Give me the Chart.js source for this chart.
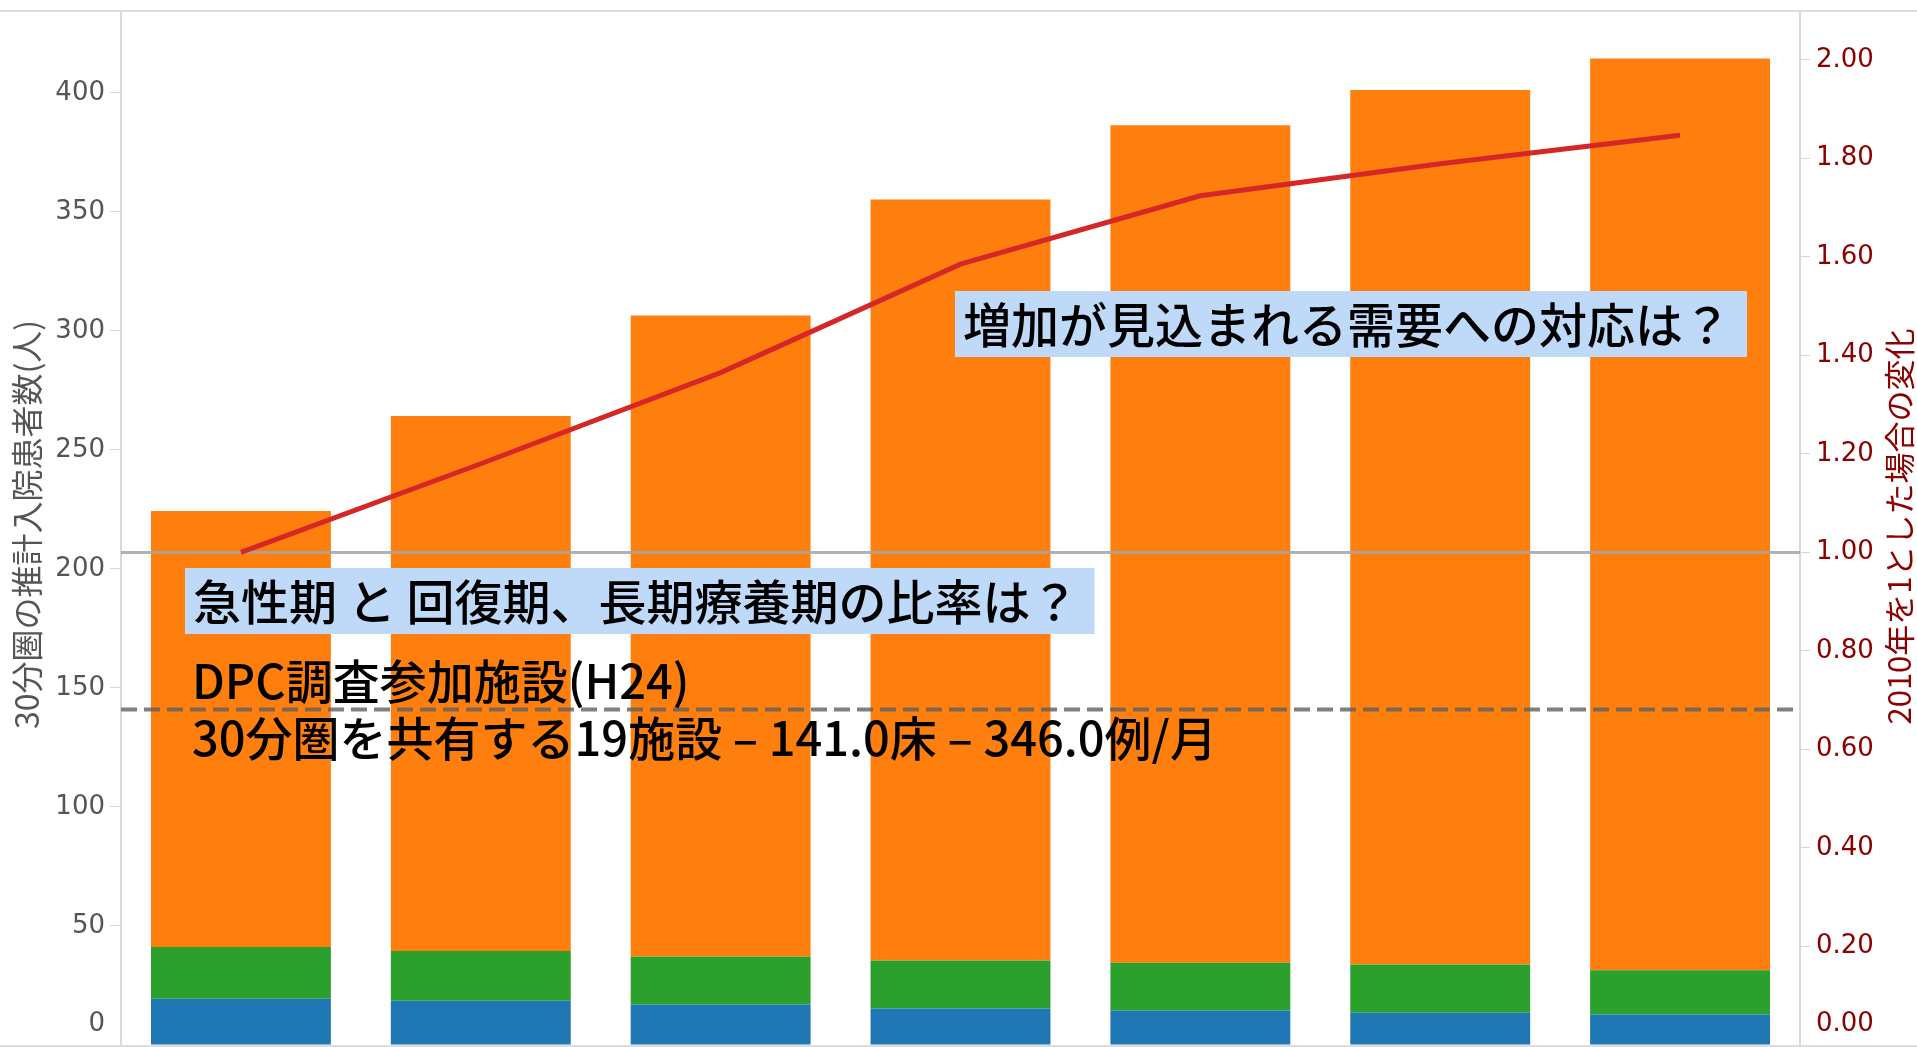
<!DOCTYPE html>
<html lang="ja">
<head>
<meta charset="utf-8">
<title>30分圏の推計入院患者数</title>
<script src="https://cdn.jsdelivr.net/npm/chart.js@4/dist/chart.umd.min.js"></script>
<style>
    html, body { margin: 0; padding: 0; background: #fff; overflow: hidden; }
    #wrap { position: relative; width: 1917px; height: 1047px; }
</style>
</head>
<body>
<div id="wrap"><canvas id="demandChart"></canvas></div>
<script>
// Years (the x axis labels are cut off in the original)
const years = ['2010', '2015', '2020', '2025', '2030', '2035', '2040'];

// Estimated inpatients (people), stacked bottom -> top
const blueValues = [19.4, 18.6, 17.0, 15.3, 14.5, 13.6, 12.8];
const greenValues = [21.8, 20.9, 20.2, 20.2, 20.1, 20.2, 18.6];
const orangeValues = [183.2, 224.8, 269.3, 319.7, 351.8, 367.4, 383.1];

// Change relative to 2010 = 1 (right axis)
const ratioValues = [1.00, 1.18, 1.365, 1.585, 1.724, 1.789, 1.847];

// Axis ticks
const leftTicks = [0, 50, 100, 150, 200, 250, 300, 350, 400];
const rightTicks = [0, 0.2, 0.4, 0.6, 0.8, 1.0, 1.2, 1.4, 1.6, 1.8, 2.0];
const leftMax = 434;
const rightMax = 2.097;

// Reference lines
const bedLine = 141.0;   // left axis, dashed
const baseRatio = 1.0;   // right axis, solid

// Titles and notes
const leftTitle = '30分圏の推計入院患者数(人)';
const rightTitle = '2010年を1とした場合の変化';
const boxNotes = [
    { text: '増加が見込まれる需要への対応は？', x: 955, y: 291 },
    { text: '急性期 と 回復期、長期療養期の比率は？', x: 185, y: 568 }
];
const plainNotes = [
    { text: 'DPC調査参加施設(H24)', x: 192, y: 681 },
    { text: '30分圏を共有する19施設 – 141.0床 – 346.0例/月', x: 192, y: 738 }
];

const tickFont = { family: '"DejaVu Sans", sans-serif', size: 26 };
const noteFont = '500 48px "Noto Sans CJK JP", sans-serif';
const plainFont = '500 47px "Noto Sans CJK JP", sans-serif';
const leftTitleFont = '32px "Noto Sans CJK JP", sans-serif';
const rightTitleFont = '31px "Noto Sans CJK JP", sans-serif';
const leftColor = '#555555';
const rightColor = '#8b0000';

/**
 * Extra drawing: borders, reference lines, titles, notes
 */
const decorPlugin = {
    id: 'decor',
    beforeDatasetDraw(chart, args) {
        if (args.meta.type !== 'line') return;
        const { ctx, chartArea, scales } = chart;
        ctx.save();
        // solid line at ratio 1.0
        const yBase = scales.y2.getPixelForValue(baseRatio);
        ctx.strokeStyle = 'rgba(165,165,165,0.85)';
        ctx.lineWidth = 3;
        ctx.beginPath();
        ctx.moveTo(chartArea.left, yBase);
        ctx.lineTo(chartArea.right, yBase);
        ctx.stroke();
        // dashed line at 141 beds
        const yBed = scales.y.getPixelForValue(bedLine);
        ctx.strokeStyle = 'rgba(95,95,95,0.8)';
        ctx.lineWidth = 4;
        ctx.setLineDash([16, 7]);
        ctx.beginPath();
        ctx.moveTo(chartArea.left, yBed);
        ctx.lineTo(chartArea.right, yBed);
        ctx.stroke();
        ctx.restore();
    },
    afterDraw(chart) {
        const { ctx, chartArea, scales, width } = chart;
        ctx.save();

        // top and bottom borders
        ctx.fillStyle = '#dcdcdc';
        ctx.fillRect(0, chartArea.top - 2, width, 2);
        ctx.fillRect(0, chartArea.bottom, width, 2);

        // zero labels, pushed up inside the picture
        ctx.font = `${tickFont.size}px ${tickFont.family}`;
        ctx.textBaseline = 'middle';
        ctx.fillStyle = leftColor;
        ctx.textAlign = 'right';
        ctx.fillText('0', chartArea.left - 16, scales.y.getPixelForValue(0) - 21);
        ctx.fillStyle = rightColor;
        ctx.textAlign = 'left';
        ctx.fillText('0.00', chartArea.right + 16, scales.y2.getPixelForValue(0) - 21);

        // axis titles (both read bottom to top)
        const midY = (chartArea.top + chartArea.bottom) / 2;
        ctx.textAlign = 'center';
        ctx.font = leftTitleFont;
        ctx.fillStyle = leftColor;
        ctx.save();
        ctx.translate(27, midY - 4);
        ctx.rotate(-Math.PI / 2);
        ctx.fillText(leftTitle, 0, 0);
        ctx.restore();
        ctx.font = rightTitleFont;
        ctx.fillStyle = rightColor;
        ctx.save();
        ctx.translate(1899, midY - 2);
        ctx.rotate(-Math.PI / 2);
        ctx.fillText(rightTitle, 0, 0);
        ctx.restore();

        // notes with light blue boxes
        ctx.font = noteFont;
        ctx.textAlign = 'left';
        boxNotes.forEach(n => {
            const w = ctx.measureText(n.text).width + 24;
            ctx.fillStyle = '#bedaf8';
            ctx.fillRect(n.x, n.y, w, 66);
            ctx.fillStyle = '#000';
            ctx.fillText(n.text, n.x + 8, n.y + 34);
        });
        ctx.font = plainFont;
        ctx.fillStyle = '#000';
        plainNotes.forEach(n => ctx.fillText(n.text, n.x, n.y));

        ctx.restore();
    }
};

function fixedWidth(w) {
    return (scale) => {
        scale.width = w;
        scale.paddingTop = 0;
        scale.paddingBottom = 0;
    };
}

const ctx = document.getElementById('demandChart');
new Chart(ctx, {
    type: 'bar',
    data: {
        labels: years,
        datasets: [
            {
                type: 'line',
                label: '2010年比',
                data: ratioValues,
                yAxisID: 'y2',
                borderColor: '#d62728',
                borderWidth: 5,
                pointRadius: 0,
                tension: 0,
                order: 0
            },
            {
                label: 'blue',
                data: blueValues,
                backgroundColor: '#1f77b4',
                yAxisID: 'y',
                order: 1
            },
            {
                label: 'green',
                data: greenValues,
                backgroundColor: '#2ca02c',
                yAxisID: 'y',
                order: 1
            },
            {
                label: 'orange',
                data: orangeValues,
                backgroundColor: '#ff7f0e',
                yAxisID: 'y',
                order: 1
            }
        ]
    },
    options: {
        responsive: true,
        maintainAspectRatio: false,
        animation: false,
        layout: { padding: { top: 12, bottom: 2, left: 0, right: 0 } },
        datasets: {
            bar: { categoryPercentage: 1.0, barPercentage: 0.75 }
        },
        plugins: {
            legend: { display: false },
            tooltip: { enabled: false }
        },
        scales: {
            x: {
                display: false,
                stacked: true
            },
            y: {
                position: 'left',
                stacked: true,
                min: 0,
                max: leftMax,
                afterBuildTicks: (scale) => {
                    scale.ticks = leftTicks.map(v => ({ value: v }));
                },
                afterFit: fixedWidth(121),
                grid: {
                    drawOnChartArea: false,
                    drawTicks: true,
                    tickLength: 11,
                    color: '#d6d6d6'
                },
                border: { display: true, color: '#d9d9d9', width: 2 },
                ticks: {
                    padding: 5,
                    color: leftColor,
                    font: tickFont,
                    callback: (v) => (v === 0 ? '' : String(v))
                }
            },
            y2: {
                position: 'right',
                min: 0,
                max: rightMax,
                afterBuildTicks: (scale) => {
                    scale.ticks = rightTicks.map(v => ({ value: v }));
                },
                afterFit: fixedWidth(117),
                grid: {
                    drawOnChartArea: false,
                    drawTicks: true,
                    tickLength: 10,
                    color: '#d6d6d6'
                },
                border: { display: true, color: '#d9d9d9', width: 2 },
                ticks: {
                    padding: 6,
                    color: rightColor,
                    font: tickFont,
                    callback: (v) => (v === 0 ? '' : Number(v).toFixed(2))
                }
            }
        }
    },
    plugins: [decorPlugin]
});
</script>
</body>
</html>
